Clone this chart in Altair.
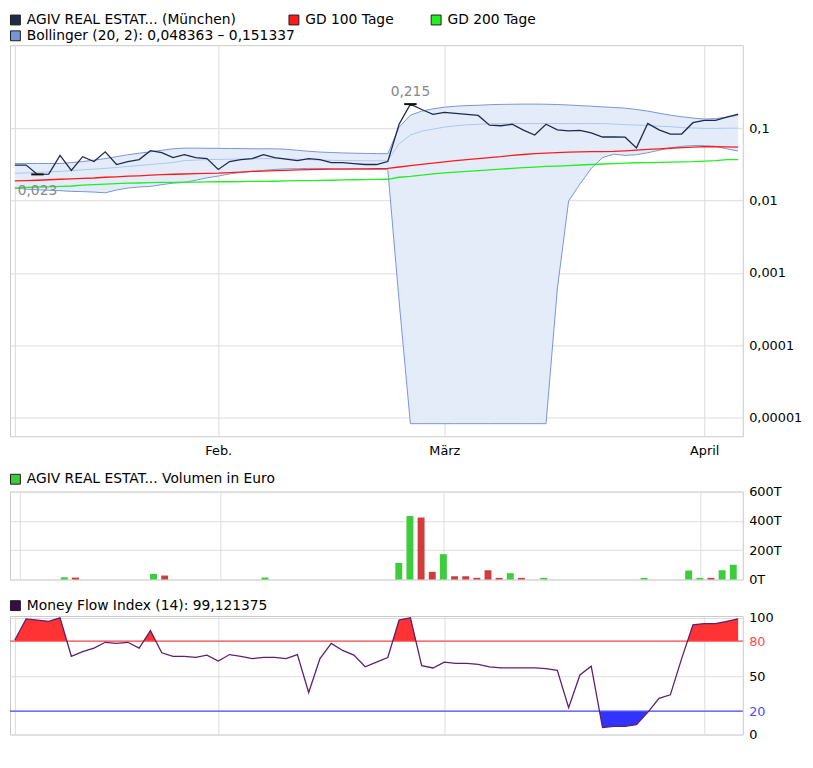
import altair as alt
import pandas as pd

# ---------------- data ----------------
dates = [
    "2010-01-06", "2010-01-07", "2010-01-08", "2010-01-11", "2010-01-12", "2010-01-13", "2010-01-14",
    "2010-01-15", "2010-01-18", "2010-01-19", "2010-01-20", "2010-01-21", "2010-01-22", "2010-01-25",
    "2010-01-26", "2010-01-27", "2010-01-28", "2010-01-29",
    "2010-02-01", "2010-02-02", "2010-02-03", "2010-02-04", "2010-02-05", "2010-02-08", "2010-02-09",
    "2010-02-10", "2010-02-11", "2010-02-12", "2010-02-15", "2010-02-16", "2010-02-17", "2010-02-18",
    "2010-02-19", "2010-02-22", "2010-02-23", "2010-02-24", "2010-02-25", "2010-02-26",
    "2010-03-01", "2010-03-02", "2010-03-03", "2010-03-04", "2010-03-05", "2010-03-08", "2010-03-09",
    "2010-03-10", "2010-03-11", "2010-03-12", "2010-03-15", "2010-03-16", "2010-03-17", "2010-03-18",
    "2010-03-19", "2010-03-22", "2010-03-23", "2010-03-24", "2010-03-25", "2010-03-26", "2010-03-29",
    "2010-03-30", "2010-03-31",
    "2010-04-01", "2010-04-06", "2010-04-07", "2010-04-08",
]

price = [
    0.0309, 0.0309, 0.0230, 0.0232, 0.0421, 0.0261, 0.0404, 0.0346, 0.0472, 0.0315,
    0.0346, 0.0368, 0.0488, 0.0458, 0.0392, 0.0430, 0.0392, 0.0380, 0.0269, 0.0346,
    0.0368, 0.0380, 0.0430, 0.0392, 0.0374, 0.0357, 0.0380, 0.0368, 0.0335, 0.0335,
    0.0325, 0.0315, 0.0315, 0.0346, 0.1133, 0.2150, 0.1810, 0.1550, 0.1650, 0.1600,
    0.1550, 0.1500, 0.1099, 0.1080, 0.1133, 0.0939, 0.0803, 0.1133, 0.0950, 0.0920,
    0.0930, 0.0860, 0.0755, 0.0755, 0.0750, 0.0535, 0.1160, 0.0947, 0.0829, 0.0830,
    0.1190, 0.1285, 0.1285, 0.1420, 0.1560,
]

gd100 = [
    0.0187, 0.0189, 0.0191, 0.0194, 0.0197, 0.0199, 0.0202, 0.0205, 0.0210, 0.0213,
    0.0217, 0.0220, 0.0224, 0.0228, 0.0231, 0.0233, 0.0235, 0.0237, 0.0239, 0.0243,
    0.0248, 0.0253, 0.0256, 0.0259, 0.0262, 0.0265, 0.0268, 0.0270, 0.0272, 0.0272,
    0.0274, 0.0275, 0.0277, 0.0278, 0.0291, 0.0305, 0.0317, 0.0330, 0.0343, 0.0356,
    0.0368, 0.0380, 0.0392, 0.0404, 0.0420, 0.0433, 0.0444, 0.0451, 0.0458, 0.0466,
    0.0472, 0.0474, 0.0475, 0.0477, 0.0485, 0.0497, 0.0509, 0.0519, 0.0528, 0.0538,
    0.0547, 0.0556, 0.0554, 0.0552, 0.0547,
]

gd200 = [
    0.0149, 0.0152, 0.0154, 0.0155, 0.0157, 0.0159, 0.0163, 0.0166, 0.0169, 0.0172,
    0.0174, 0.0175, 0.0177, 0.0178, 0.0179, 0.0180, 0.0180, 0.0181, 0.0182, 0.0182,
    0.0183, 0.0184, 0.0184, 0.0185, 0.0187, 0.0188, 0.0189, 0.0190, 0.0191, 0.0193,
    0.0194, 0.0195, 0.0196, 0.0197, 0.0210, 0.0216, 0.0224, 0.0233, 0.0242, 0.0248,
    0.0253, 0.0259, 0.0265, 0.0271, 0.0279, 0.0285, 0.0290, 0.0296, 0.0300, 0.0305,
    0.0310, 0.0315, 0.0320, 0.0325, 0.0330, 0.0333, 0.0335, 0.0337, 0.0339, 0.0342,
    0.0344, 0.0351, 0.0357, 0.0368, 0.0368,
]

boll_upper = [
    0.0325, 0.0325, 0.0325, 0.0325, 0.0325, 0.0335, 0.0346, 0.0362, 0.0380, 0.0404,
    0.0430, 0.0451, 0.0472, 0.0495, 0.0519, 0.0530, 0.0530, 0.0527, 0.0527, 0.0524,
    0.0522, 0.0519, 0.0519, 0.0519, 0.0511, 0.0495, 0.0480, 0.0468, 0.0461, 0.0455,
    0.0451, 0.0448, 0.0445, 0.0444, 0.1030, 0.1510, 0.1720, 0.1850, 0.1950, 0.2010,
    0.2050, 0.2070, 0.2110, 0.2130, 0.2140, 0.2150, 0.2150, 0.2140, 0.2120, 0.2090,
    0.2050, 0.2010, 0.1970, 0.1930, 0.1890, 0.1810, 0.1720, 0.1610, 0.1510, 0.1440,
    0.1380, 0.1337, 0.1355, 0.1420, 0.151337,
]

boll_mid = [
    0.0238, 0.0241, 0.0245, 0.0249, 0.0253, 0.0259, 0.0266, 0.0272, 0.0278, 0.0287,
    0.0296, 0.0305, 0.0315, 0.0325, 0.0335, 0.0357, 0.0362, 0.0368, 0.0370, 0.0373,
    0.0375, 0.0378, 0.0380, 0.0380, 0.0376, 0.0372, 0.0368, 0.0363, 0.0360, 0.0357,
    0.0356, 0.0355, 0.0354, 0.0354, 0.0607, 0.0803, 0.0910, 0.0969, 0.1032, 0.1080,
    0.1115, 0.1133, 0.1150, 0.1155, 0.1158, 0.1158, 0.1158, 0.1158, 0.1158, 0.1158,
    0.1158, 0.1158, 0.1158, 0.1140, 0.1120, 0.1105, 0.1090, 0.1064, 0.1050, 0.1020,
    0.1005, 0.0995, 0.0992, 0.1000, 0.0999,
]

boll_lower = [
    0.0149, 0.0144, 0.0141, 0.0139, 0.0137, 0.0134, 0.0133, 0.0131, 0.0128, 0.0140,
    0.0149, 0.0154, 0.0157, 0.0166, 0.0174, 0.0178, 0.0191, 0.0206, 0.0218, 0.0234,
    0.0245, 0.0253, 0.0261, 0.0269, 0.0274, 0.0276, 0.0278, 0.0278, 0.0276, 0.0274,
    0.0272, 0.0271, 0.0269, 0.0269, 0.00041, 0.0000083, 0.0000083, 0.0000083, 0.0000083, 0.0000083,
    0.0000083, 0.0000083, 0.0000083, 0.0000083, 0.0000083, 0.0000083, 0.0000083, 0.0000083, 0.0006, 0.0099,
    0.0169, 0.0278, 0.0392, 0.0437, 0.0421, 0.0430, 0.0458, 0.0495, 0.0535, 0.0561,
    0.0574, 0.0574, 0.0561, 0.0519, 0.048363,
]

volume = [
    0, 0, 0, 0, 15000, 13000, 0, 0, 0, 0,
    0, 0, 38000, 27000, 0, 0, 0, 0, 0, 0,
    0, 0, 13000, 0, 0, 0, 0, 0, 0, 0,
    0, 0, 0, 0, 113000, 433000, 423000, 52000, 173000, 22000,
    22000, 11000, 63000, 11000, 43000, 11000, 0, 11000, 0, 0,
    0, 0, 0, 0, 0, 0, 11000, 0, 0, 0,
    61000, 11000, 11000, 63000, 101000,
]

vol_dir = [
    "up", "up", "up", "up", "up", "down", "up", "up", "up", "up",
    "up", "up", "up", "down", "up", "up", "up", "up", "up", "up",
    "up", "up", "up", "up", "up", "up", "up", "up", "up", "up",
    "up", "up", "up", "up", "up", "up", "down", "down", "up", "down",
    "down", "down", "down", "down", "up", "down", "up", "up", "up", "up",
    "up", "up", "up", "up", "up", "up", "up", "up", "up", "up",
    "up", "up", "down", "up", "up",
]

mfi = [
    81, 99, 98, 97, 100, 67, 71, 74, 79, 78,
    79, 74, 89, 70, 67, 67, 66, 68, 63, 68.5,
    67, 65, 66, 66, 65, 68.5, 36, 65, 78, 72,
    68, 58, 62, 66, 98, 100, 59, 57, 62, 61,
    61, 60, 58, 57, 57, 57, 57, 56.5, 55, 23,
    51, 58.5, 6, 7, 7, 8.5, 19, 31, 34, 65,
    94, 95, 95, 97, 99.121375,
]

mfi_levels = [80, 20]
mfi_level_colors = ["#ff4a4a", "#4a4aff"]
month_names = {"2010-01": "", "2010-02": "Feb.", "2010-03": "März", "2010-04": "April"}

legend_main = ["AGIV REAL ESTAT... (München)", "GD 100 Tage", "GD 200 Tage",
               "Bollinger (20, 2): 0,048363 \u2013 0,151337"]
legend_vol = "AGIV REAL ESTAT... Volumen in Euro"
legend_mfi = "Money Flow Index (14): 99,121375"

# ---------------- setup ----------------
N = len(dates)
idx = list(range(N))
tick_idx = [i for i in idx if i == 0 or dates[i][:7] != dates[i - 1][:7]]
tick_labels = [month_names[dates[i][:7]] for i in tick_idx]
x_label_expr = " : ".join(f"datum.value == {v} ? '{lab}'" for v, lab in zip(tick_idx, tick_labels)) + " : ''"

df = pd.DataFrame({
    "i": idx, "date": dates, "price": price, "gd100": gd100, "gd200": gd200,
    "upper": boll_upper, "mid": boll_mid, "lower": boll_lower,
    "volume": volume, "dir": vol_dir, "mfi": mfi,
})

FONT = "DejaVu Sans"
GRID = "#dcdcdc"
W = 742
H_MAIN = 396
H_VOL = 89
H_MFI = 120
x_dom = [-0.43, 64.41]
x_scale = alt.Scale(domain=x_dom, nice=False, zero=False)


def x_axis(show_labels):
    kw = dict(values=tick_idx, grid=True, gridColor=GRID, ticks=False, domain=False, title=None,
              labels=show_labels)
    if show_labels:
        kw.update(labelExpr=x_label_expr, labelFont=FONT, labelFontSize=13, labelColor="#000",
                  labelPadding=8, labelFlush=False, labelOverlap=False)
    return alt.Axis(**kw)


def x_enc(field, show_labels):
    return alt.X(f"{field}:Q", title=None, scale=x_scale, axis=x_axis(show_labels))


def legend_item(x0, yc, fill, label):
    d = pd.DataFrame({"label": [label]})
    sq = alt.Chart(d).mark_rect(fill=fill, stroke="#1a1a1a", strokeWidth=1).encode(
        x=alt.value(x0 + 0.5), x2=alt.value(x0 + 10.5), y=alt.value(yc - 4.5), y2=alt.value(yc + 5.5))
    tx = alt.Chart(d).mark_text(align="left", baseline="middle", font=FONT, fontSize=14,
                                color="#000").encode(
        x=alt.value(x0 + 17), y=alt.value(yc + 0.5), text="label:N")
    return [sq, tx]


# ---------------- main panel ----------------
ys = alt.Scale(type="log", domain=[5.56e-6, 1.40], nice=False)
ya = alt.Axis(orient="right", values=[1e-5, 1e-4, 1e-3, 1e-2, 1e-1],
              labelExpr="replace(format(datum.value, '.5~f'), '.', ',')",
              grid=True, gridColor=GRID, ticks=False, domain=False, labelFont=FONT,
              labelFontSize=13, labelColor="#000", labelPadding=6, labelOverlap=False, title=None)
xm = x_enc("i", True)
base = alt.Chart(df)


def yfield(f):
    return alt.Y(f"{f}:Q", scale=ys, axis=ya, title=None)


band = base.mark_area(color="#e4ecf9").encode(x=xm, y=yfield("lower"), y2="upper:Q")
mid_l = base.mark_line(color="#abc6f2", strokeWidth=1).encode(x=xm, y=yfield("mid"))
up_l = base.mark_line(color="#7595da", strokeWidth=1).encode(x=xm, y=yfield("upper"))
lo_l = base.mark_line(color="#7595da", strokeWidth=1).encode(x=xm, y=yfield("lower"))
g200 = base.mark_line(color="#22ee22", strokeWidth=1.3).encode(x=xm, y=yfield("gd200"))
g100 = base.mark_line(color="#ff1a1a", strokeWidth=1.3).encode(x=xm, y=yfield("gd100"))
px = base.mark_line(color="#1e2a4a", strokeWidth=1.3).encode(x=xm, y=yfield("price"))

imax = price.index(max(price))
imin = price.index(min(price))
ext = pd.DataFrame({
    "i": [imax, imin],
    "v": [price[imax], price[imin]],
    "label": [f"{price[imax]:.3f}".replace(".", ","), f"{price[imin]:.3f}".replace(".", ",")],
    "kind": ["high", "low"],
})
ext_rule = alt.Chart(ext).transform_calculate(
    a="datum.i - 0.55", b="datum.i + 0.55"
).mark_rule(color="#111111", strokeWidth=2).encode(
    x=x_enc("a", True), x2="b:Q", y=yfield("v"))
ext_hi = alt.Chart(ext).transform_filter("datum.kind == 'high'").mark_text(
    dy=-12, font=FONT, fontSize=14, color="#888888").encode(
    x=xm, y=yfield("v"), text="label:N")
ext_lo = alt.Chart(ext).transform_filter("datum.kind == 'low'").mark_text(
    dy=17, font=FONT, fontSize=14, color="#888888").encode(
    x=xm, y=yfield("v"), text="label:N")

main_leg = (legend_item(0, -26, "#1e2a4a", legend_main[0])
            + legend_item(282, -26, "#ff1a1a", legend_main[1])
            + legend_item(426, -26, "#22ee22", legend_main[2])
            + legend_item(0, -10, "#7595da", legend_main[3]))

main = alt.layer(band, mid_l, up_l, lo_l, g200, g100, px, ext_rule, ext_hi, ext_lo,
                 *main_leg).properties(width=W, height=H_MAIN)

# ---------------- volume panel ----------------
vol_bars = alt.Chart(df).transform_filter("datum.volume > 0").mark_bar(size=7).encode(
    x=x_enc("i", False),
    y=alt.Y("volume:Q", title=None, scale=alt.Scale(domain=[0, 600000], nice=False),
            axis=alt.Axis(orient="right", values=[0, 200000, 400000, 600000],
                          labelExpr="format(datum.value / 1000, 'd') + 'T'",
                          grid=True, gridColor=GRID, ticks=False, domain=False, labelFont=FONT,
                          labelFontSize=13, labelColor="#000", labelPadding=6, labelOverlap=False,
                          title=None)),
    color=alt.Color("dir:N", scale=alt.Scale(domain=["up", "down"], range=["#3ccc3c", "#d03c3c"]),
                    legend=None),
)
vol = alt.layer(vol_bars, *legend_item(0, -13, "#3ccc3c", legend_vol)).properties(width=W, height=H_VOL)


# ---------------- MFI panel ----------------
def fill_polygon(xs, vals, level, above):
    """Vertices of the region between the MFI line and a level line (crossings included)."""
    px_, py_ = [], []
    for k in range(len(xs)):
        if k > 0:
            v0, v1 = vals[k - 1], vals[k]
            if (v0 - level) * (v1 - level) < 0:
                t = (level - v0) / (v1 - v0)
                px_.append(xs[k - 1] + t * (xs[k] - xs[k - 1]))
                py_.append(level)
        px_.append(xs[k])
        py_.append(max(vals[k], level) if above else min(vals[k], level))
    return pd.DataFrame({"i": px_, "v": py_, "lvl": [level] * len(px_)})


hi_df = fill_polygon(idx, mfi, mfi_levels[0], True)
lo_df = fill_polygon(idx, mfi, mfi_levels[1], False)

mfi_scale = alt.Scale(domain=[0, 101.5], nice=False)
label_color_expr = (f"datum.value == {mfi_levels[0]} ? '{mfi_level_colors[0]}' : "
                    f"datum.value == {mfi_levels[1]} ? '{mfi_level_colors[1]}' : '#000000'")
mfi_axis = alt.Axis(
    orient="right", values=[0, 20, 50, 80, 100], grid=True, gridColor=GRID,
    labelColor={"expr": label_color_expr},
    ticks=False, domain=False, labelFont=FONT, labelFontSize=13, labelPadding=6,
    labelOverlap=False, title=None)


def mfi_y(field):
    return alt.Y(f"{field}:Q", scale=mfi_scale, axis=mfi_axis, title=None)


red_area = alt.Chart(hi_df).mark_area(color="#ff3333").encode(
    x=x_enc("i", False), y=mfi_y("v"), y2="lvl:Q")
blue_area = alt.Chart(lo_df).mark_area(color="#3333ff").encode(
    x=x_enc("i", False), y=mfi_y("v"), y2="lvl:Q")
level_rules = [
    alt.Chart(pd.DataFrame({"lvl": [lv]})).mark_rule(color=c, strokeWidth=1.2).encode(y=mfi_y("lvl"))
    for lv, c in zip(mfi_levels, mfi_level_colors)
]
mfi_line = alt.Chart(df).mark_line(color="#5e1f6e", strokeWidth=1.3).encode(
    x=x_enc("i", False), y=mfi_y("mfi"))
mfi_chart = alt.layer(red_area, blue_area, *level_rules, mfi_line,
                      *legend_item(0, -11, "#3a0a4a", legend_mfi)).properties(width=W, height=H_MFI)

lower = alt.vconcat(vol, mfi_chart, spacing=37, bounds="flush").resolve_scale(
    x="independent", y="independent", color="independent")

chart = alt.vconcat(main, lower, spacing=56, bounds="flush").resolve_scale(
    x="independent", y="independent", color="independent"
).properties(
    padding={"left": 0, "top": 0, "right": 2, "bottom": 2}
).configure_view(stroke="#c8c8c8", strokeWidth=1)

chart.save("out.html", embed_options={"renderer": "svg", "actions": False})
